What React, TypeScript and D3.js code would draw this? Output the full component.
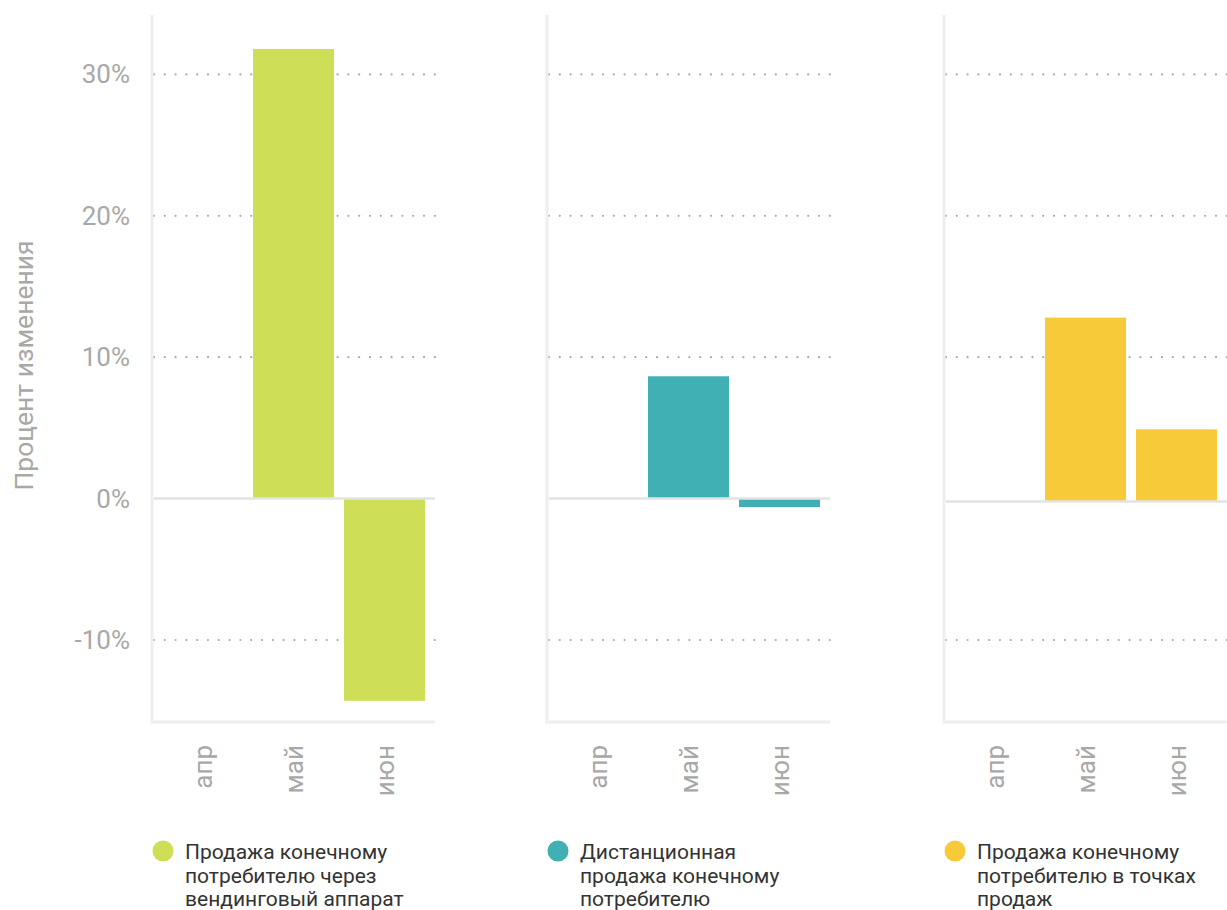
import React from "react";
import * as d3 from "d3";

const months = ["апр", "май", "июн"];
const vendingValues = [0, 31.8, -14.3];
const remoteValues = [0, 8.65, -0.6];
const storeValues = [-0.2, 12.8, 4.9];
const yTicks = [-10, 0, 10, 20, 30];
const seriesColors = ["#cfde57", "#40b0b4", "#f7ca3a"];
const legendLines = [
  ["Продажа конечному", "потребителю через", "вендинговый аппарат"],
  ["Дистанционная", "продажа конечному", "потребителю"],
  ["Продажа конечному", "потребителю в точках", "продаж"],
];
const yTitle = "Процент изменения";

const W = 1227;
const H = 910;
const panelLefts = [152, 547, 944];
const panelWidth = 283;
const top = 15;
const bottom = 722;
const font = "Roboto, 'Noto Sans', sans-serif";

export default function App() {
  const series = [vendingValues, remoteValues, storeValues];
  const y = d3.scaleLinear().domain([-15.8, 34.2]).range([bottom, top]);
  return (
    <svg
      width={W}
      height={H}
      style={{ position: "absolute", left: 0, top: 0, background: "#fff" }}
      fontFamily={font}
    >
      <text
        transform={`translate(33,${(top + bottom) / 2 - 3}) rotate(-90)`}
        textAnchor="middle"
        fontSize={26.5}
        fill="#a8a8a8"
      >
        {yTitle}
      </text>
      {series.map((vals, pi) => {
        const x0 = panelLefts[pi];
        const x = d3
          .scaleBand<string>()
          .domain(months)
          .range([x0, x0 + panelWidth])
          .paddingInner(0.11)
          .paddingOuter(0.11);
        const base = vals[0];
        return (
          <g key={pi}>
            {yTicks
              .filter((t) => t !== 0)
              .map((t) => (
                <line
                  key={t}
                  x1={x0 + 2}
                  x2={x0 + panelWidth}
                  y1={y(t)}
                  y2={y(t)}
                  stroke="#a9a9a9"
                  strokeWidth={2.2}
                  strokeDasharray="0,10.8"
                  strokeLinecap="round"
                />
              ))}
            {pi === 0 &&
              yTicks.map((t) => (
                <text
                  key={t}
                  x={x0 - 22}
                  y={y(t)}
                  dy="0.35em"
                  textAnchor="end"
                  fontSize={26}
                  fill="#a8a8a8"
                >
                  {`${t}%`}
                </text>
              ))}
            {vals.map((v, i) => {
              const m = months[i];
              const yv = y(v);
              const yb = y(base);
              return (
                <rect
                  key={m}
                  x={x(m)}
                  width={x.bandwidth()}
                  y={Math.min(yv, yb)}
                  height={Math.abs(yv - yb)}
                  fill={seriesColors[pi]}
                />
              );
            })}
            <line
              x1={x0 + 2}
              x2={x0 + panelWidth}
              y1={y(base)}
              y2={y(base)}
              stroke="#e3e3e3"
              strokeWidth={2.5}
            />
            <line
              x1={x0}
              x2={x0}
              y1={top}
              y2={bottom + 1.5}
              stroke="#eeeeee"
              strokeWidth={3}
            />
            <line
              x1={x0 + 2}
              x2={x0 + panelWidth}
              y1={bottom}
              y2={bottom}
              stroke="#eeeeee"
              strokeWidth={3}
            />
            {months.map((m) => (
              <text
                key={m}
                transform={`translate(${(x(m) ?? 0) + x.bandwidth() / 2},745) rotate(-90)`}
                textAnchor="end"
                dy="0.35em"
                fontSize={26}
                fill="#a8a8a8"
              >
                {m}
              </text>
            ))}
            <circle cx={x0 + 11} cy={851} r={10.5} fill={seriesColors[pi]} />
            {legendLines[pi].map((line, li) => (
              <text
                key={li}
                x={x0 + 33}
                y={859 + li * 23.5}
                fontSize={21}
                fill="#333333"
              >
                {line}
              </text>
            ))}
          </g>
        );
      })}
    </svg>
  );
}
